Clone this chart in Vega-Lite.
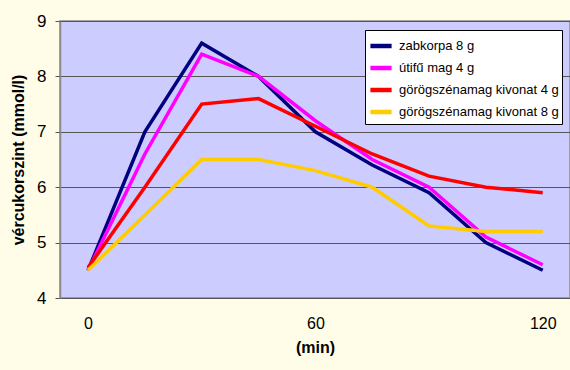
{
  "$schema": "https://vega.github.io/schema/vega-lite/v6.json",
  "width": 510,
  "height": 277,
  "autosize": {"type": "none"},
  "padding": {"left": 60, "top": 21, "right": 0, "bottom": 72},
  "background": "#FFFDE7",
  "config": {
    "font": "Liberation Sans",
    "view": {"fill": "#CCCCFF", "stroke": "#8A8A8A", "strokeWidth": 1.5}
  },
  "data": {
    "values": [
      {"min": 0, "v": 4.5, "s": "zabkorpa 8 g"},
      {"min": 15, "v": 7.0, "s": "zabkorpa 8 g"},
      {"min": 30, "v": 8.6, "s": "zabkorpa 8 g"},
      {"min": 45, "v": 8.0, "s": "zabkorpa 8 g"},
      {"min": 60, "v": 7.0, "s": "zabkorpa 8 g"},
      {"min": 75, "v": 6.4, "s": "zabkorpa 8 g"},
      {"min": 90, "v": 5.9, "s": "zabkorpa 8 g"},
      {"min": 105, "v": 5.0, "s": "zabkorpa 8 g"},
      {"min": 120, "v": 4.5, "s": "zabkorpa 8 g"},
      {"min": 0, "v": 4.5, "s": "útifű mag 4 g"},
      {"min": 15, "v": 6.6, "s": "útifű mag 4 g"},
      {"min": 30, "v": 8.4, "s": "útifű mag 4 g"},
      {"min": 45, "v": 8.0, "s": "útifű mag 4 g"},
      {"min": 60, "v": 7.2, "s": "útifű mag 4 g"},
      {"min": 75, "v": 6.5, "s": "útifű mag 4 g"},
      {"min": 90, "v": 6.0, "s": "útifű mag 4 g"},
      {"min": 105, "v": 5.1, "s": "útifű mag 4 g"},
      {"min": 120, "v": 4.6, "s": "útifű mag 4 g"},
      {"min": 0, "v": 4.55, "s": "görögszénamag kivonat 4 g"},
      {"min": 15, "v": 6.0, "s": "görögszénamag kivonat 4 g"},
      {"min": 30, "v": 7.5, "s": "görögszénamag kivonat 4 g"},
      {"min": 45, "v": 7.6, "s": "görögszénamag kivonat 4 g"},
      {"min": 60, "v": 7.1, "s": "görögszénamag kivonat 4 g"},
      {"min": 75, "v": 6.6, "s": "görögszénamag kivonat 4 g"},
      {"min": 90, "v": 6.2, "s": "görögszénamag kivonat 4 g"},
      {"min": 105, "v": 6.0, "s": "görögszénamag kivonat 4 g"},
      {"min": 120, "v": 5.9, "s": "görögszénamag kivonat 4 g"},
      {"min": 0, "v": 4.5, "s": "görögszénamag kivonat 8 g"},
      {"min": 15, "v": 5.5, "s": "görögszénamag kivonat 8 g"},
      {"min": 30, "v": 6.5, "s": "görögszénamag kivonat 8 g"},
      {"min": 45, "v": 6.5, "s": "görögszénamag kivonat 8 g"},
      {"min": 60, "v": 6.3, "s": "görögszénamag kivonat 8 g"},
      {"min": 75, "v": 6.0, "s": "görögszénamag kivonat 8 g"},
      {"min": 90, "v": 5.3, "s": "görögszénamag kivonat 8 g"},
      {"min": 105, "v": 5.2, "s": "görögszénamag kivonat 8 g"},
      {"min": 120, "v": 5.2, "s": "görögszénamag kivonat 8 g"}
    ]
  },
  "mark": {"type": "line", "strokeWidth": 3.5, "strokeJoin": "miter"},
  "encoding": {
    "x": {
      "field": "min", "type": "quantitative",
      "scale": {"domain": [-7.4, 127.2], "nice": false, "zero": false},
      "axis": {
        "values": [0, 60, 120], "grid": false, "ticks": false, "domain": false,
        "labelFontSize": 16, "labelColor": "#000", "labelPadding": 17,
        "labelFlush": false,
        "title": "(min)", "titleFontSize": 16, "titleFontWeight": "bold",
        "titleColor": "#000", "titlePadding": 8
      }
    },
    "y": {
      "field": "v", "type": "quantitative",
      "scale": {"domain": [4, 9], "nice": false, "zero": false},
      "axis": {
        "values": [4, 5, 6, 7, 8, 9], "grid": true, "gridColor": "#555555",
        "gridOpacity": 1, "gridWidth": 1.2,
        "domain": true, "domainColor": "#8A8A8A", "domainWidth": 1.5,
        "ticks": true, "tickColor": "#555555", "tickSize": 5,
        "labelFontSize": 17, "labelColor": "#000", "labelPadding": 9,
        "title": "vércukorszint (mmol/l)", "titleFontSize": 16,
        "titleFontWeight": "bold", "titleColor": "#000", "titlePadding": 10
      }
    },
    "color": {
      "field": "s", "type": "nominal",
      "scale": {
        "domain": ["zabkorpa 8 g", "útifű mag 4 g", "görögszénamag kivonat 4 g", "görögszénamag kivonat 8 g"],
        "range": ["#000080", "#FF00FF", "#FF0000", "#FFCC00"]
      },
      "legend": {
        "title": null, "orient": "none", "legendX": 305, "legendY": 9,
        "fillColor": "#FFFFFF", "strokeColor": "#000000", "padding": 3,
        "symbolType": "stroke", "symbolSize": 450, "symbolStrokeWidth": 4.5,
        "labelFontSize": 13, "labelColor": "#000", "labelOffset": 5,
        "labelLimit": 300, "rowPadding": 0
      }
    }
  }
}
